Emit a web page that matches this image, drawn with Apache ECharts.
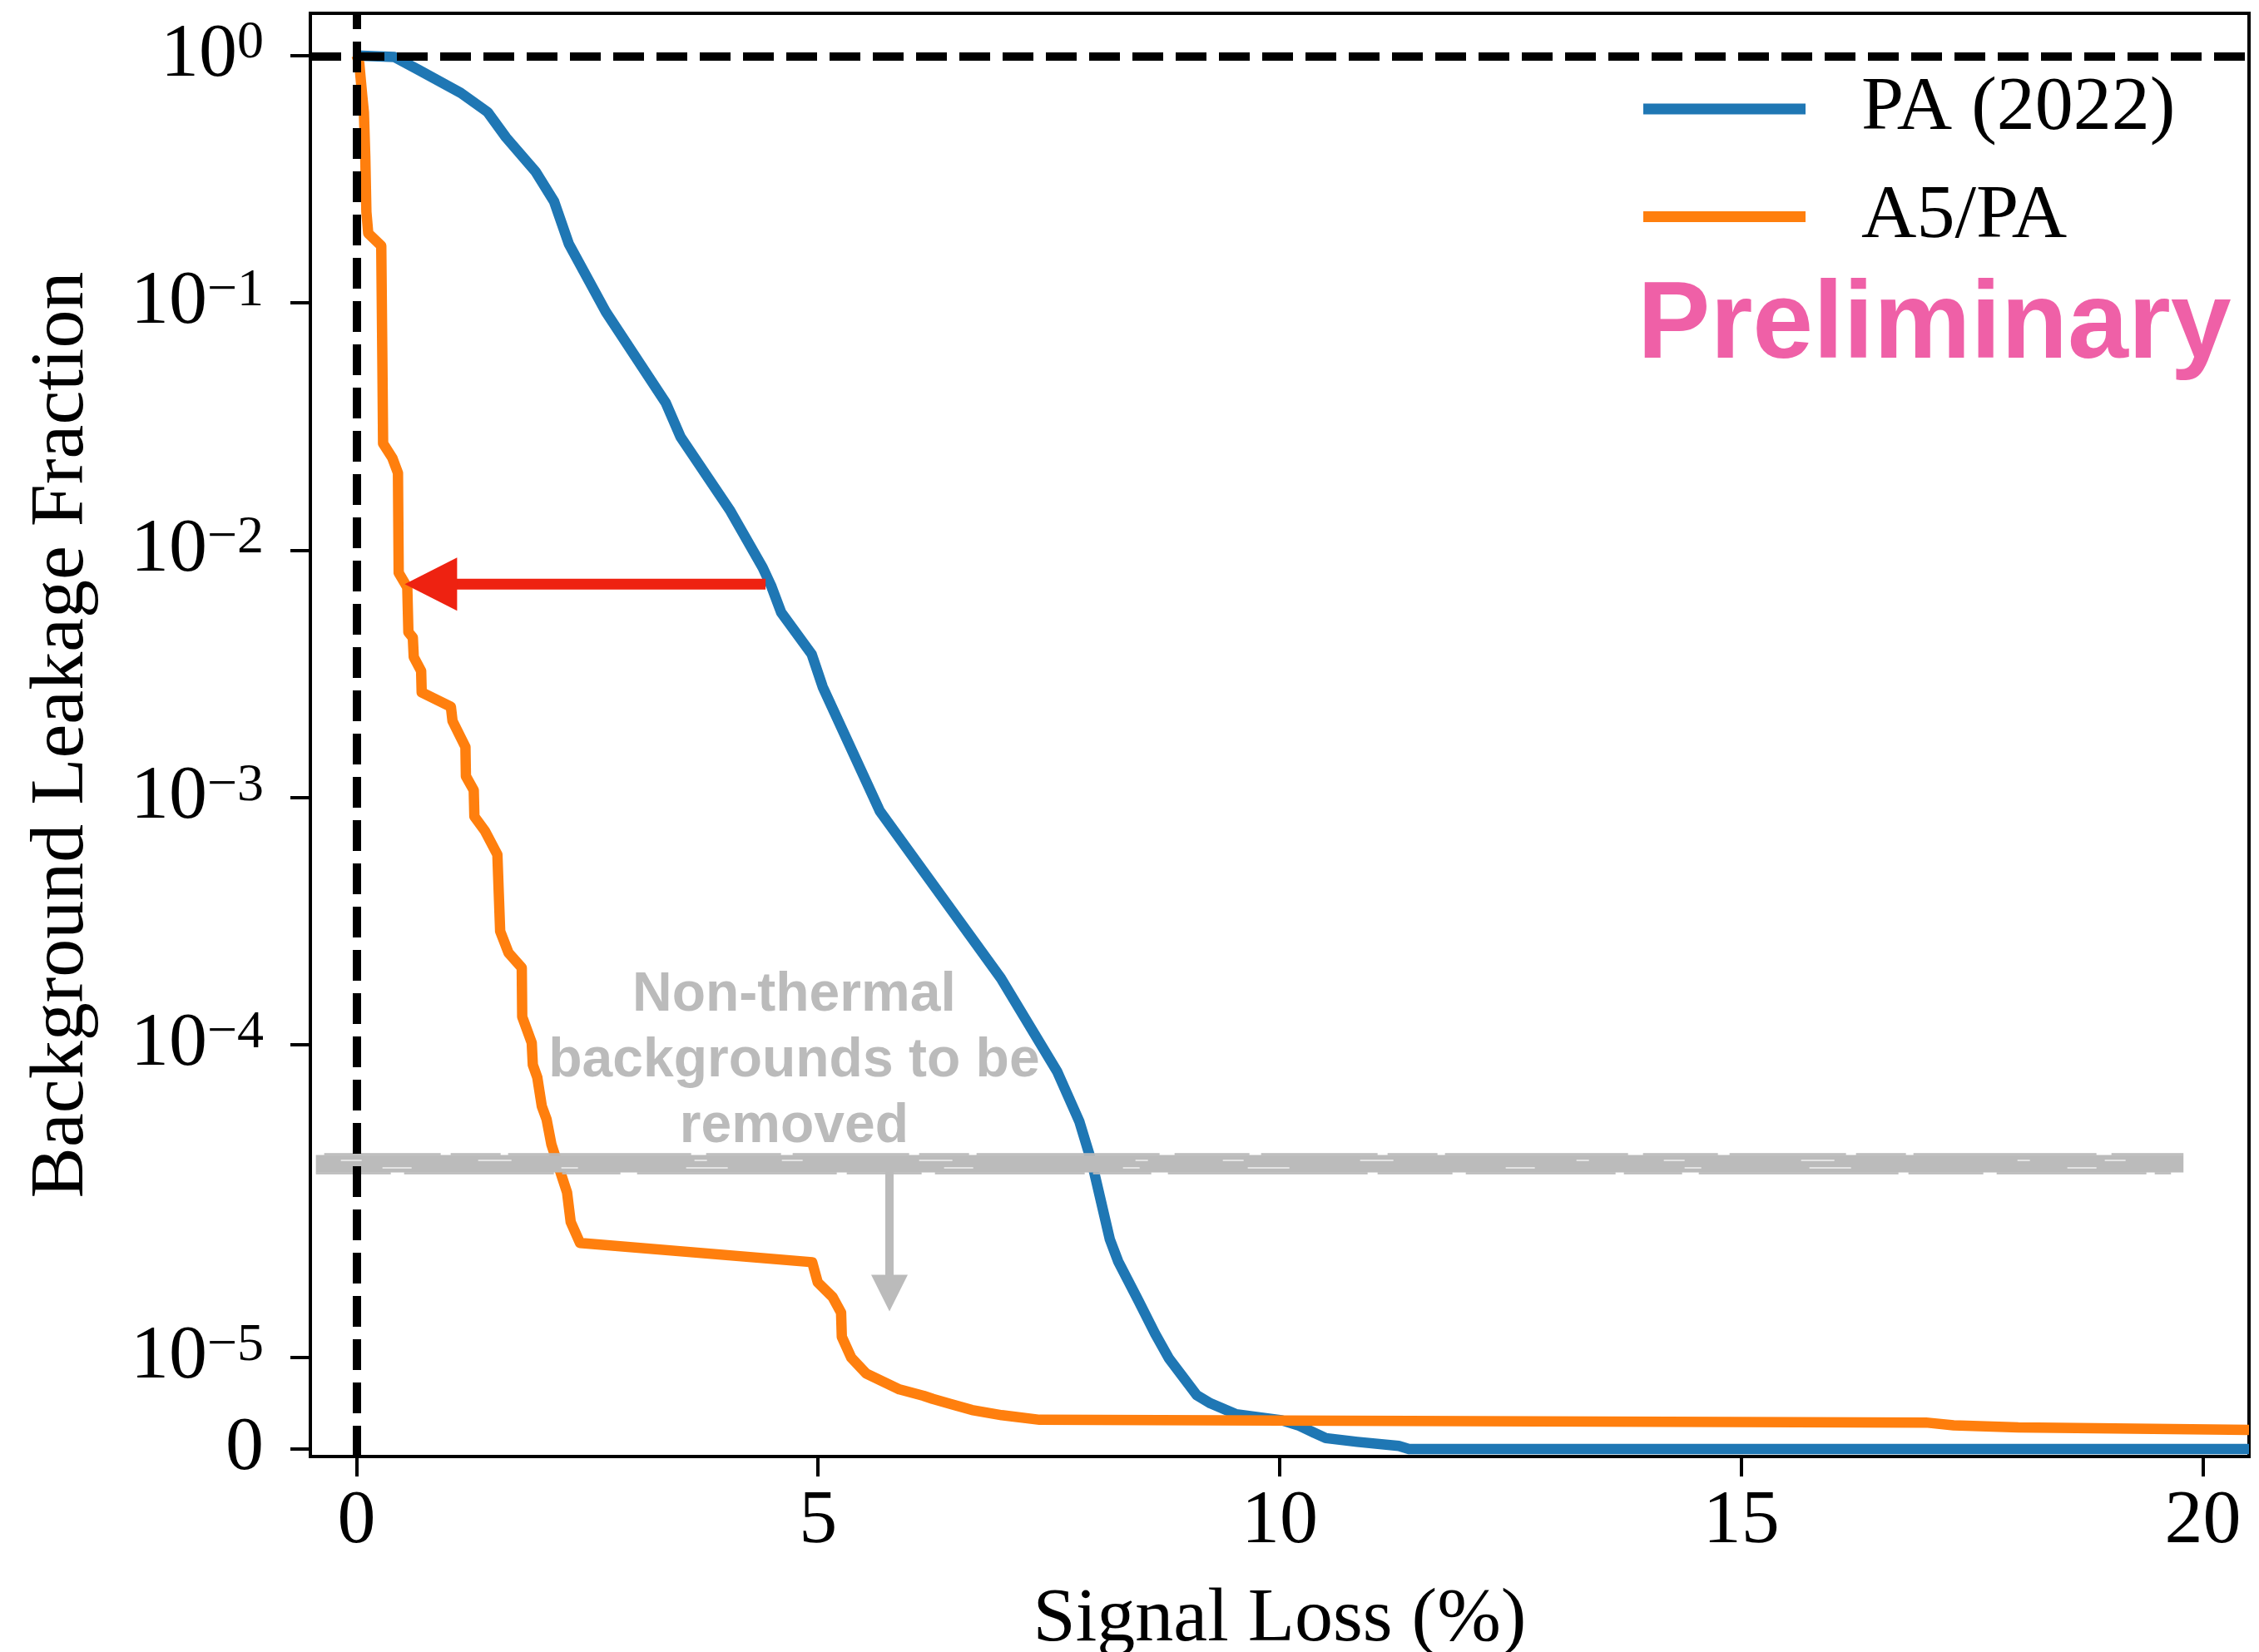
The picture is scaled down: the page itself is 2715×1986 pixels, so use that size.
<!DOCTYPE html>
<html>
<head>
<meta charset="utf-8">
<script src="https://cdn.jsdelivr.net/npm/echarts@6/dist/echarts.min.js"></script>
<style>
html,body{margin:0;padding:0;background:#fff;}
#chart{width:2715px;height:1986px;}
</style>
</head>
<body>
<div id="chart"></div>
<script>
// ---------------- data ----------------
const seriesNames = ['PA (2022)', 'A5/PA'];

const blueX = [0, 0.41, 0.67, 1.13, 1.42, 1.62, 1.94, 2.14, 2.30, 2.70, 3.35, 3.51, 4.05, 4.40, 4.49, 4.60, 4.93, 5.05, 5.67, 6.98, 7.59, 7.83, 7.97, 8.16, 8.25, 8.47, 8.65, 8.80, 9.10, 9.25, 9.53, 10.02, 10.20, 10.37, 10.50, 10.84, 11.29, 11.40, 20.5];
const blueY = [1.0, 0.985, 0.875, 0.705, 0.59, 0.466, 0.339, 0.257, 0.173, 0.092, 0.0394, 0.0287, 0.0144, 0.0085, 0.0072, 0.0056, 0.0038, 0.0028, 0.00088, 0.000186, 7.8e-5, 4.9e-5, 3.3e-5, 2.29e-5, 2.05e-5, 1.62e-5, 1.26e-5, 9.9e-6, 5.9e-6, 5.0e-6, 3.8e-6, 3.15e-6, 2.6e-6, 1.8e-6, 1.2e-6, 7.9e-7, 3.4e-7, 0, 0];

const orangeX = [0, 0.03, 0.06, 0.08, 0.095, 0.107, 0.127, 0.268, 0.28, 0.288, 0.388, 0.449, 0.457, 0.55, 0.562, 0.61, 0.62, 0.70, 0.706, 1.022, 1.04, 1.18, 1.185, 1.27, 1.277, 1.391, 1.526, 1.541, 1.556, 1.646, 1.79, 1.795, 1.898, 1.91, 1.958, 2.007, 2.059, 2.111, 2.20, 2.281, 2.32, 2.421, 4.936, 4.996, 5.157, 5.249, 5.257, 5.358, 5.519, 5.881, 6.142, 6.243, 6.424, 6.666, 6.99, 7.4, 10.0, 17.0, 17.3, 18.0, 20.5];
const orangeY = [1.0, 0.93, 0.7, 0.59, 0.39, 0.233, 0.191, 0.17, 0.0585, 0.027, 0.0236, 0.0205, 0.0081, 0.00707, 0.00466, 0.00443, 0.0037, 0.00325, 0.00266, 0.00233, 0.00204, 0.0016, 0.00122, 0.00107, 0.000838, 0.000733, 0.000588, 0.000411, 0.000288, 0.000236, 0.000205, 0.00013, 0.000102, 8.3e-5, 7.4e-5, 5.65e-5, 5.0e-5, 3.96e-5, 3.13e-5, 2.8e-5, 2.48e-5, 2.25e-5, 2.04e-5, 1.82e-5, 1.66e-5, 1.49e-5, 1.225e-5, 1.0e-5, 8.26e-6, 6.52e-6, 5.82e-6, 5.48e-6, 4.96e-6, 4.27e-6, 3.7e-6, 3.2e-6, 3.12e-6, 2.9e-6, 2.6e-6, 2.36e-6, 2.1e-6];

const xTicks = [0, 5, 10, 15, 20];
const xLimits = [-0.5, 20.5];
const yTickValues = [0, 1e-5, 1e-4, 1e-3, 1e-2, 1e-1, 1];
const yTickExponents = [null, '\u22125', '\u22124', '\u22123', '\u22122', '\u22121', '0'];
const yLimits = [-8.1e-7, 1.48];

const refLineX = 0;      // vertical dashed line
const refLineY = 1;      // horizontal dashed line

const annotationText = 'Non-thermal\nbackgrounds to be\nremoved';
const annotationPos = [4.74, 8.6e-5];
const bandX = [-0.44, 19.79];
const bandY = 3.31e-5;
const grayArrowX = 5.773;
const grayArrowY = [3.31e-5, 1.503e-5];
const redArrowX = [4.431, 0.522];   // tail -> tip
const redArrowY = 0.00729;

const xLabel = 'Signal Loss (%)';
const yLabel = 'Background Leakage Fraction';
const stampText = 'Preliminary';

// ---------------- symlog transform (linthresh 3e-5, linscale 1) ----------------
const LT = 3e-5, LS = 1 / (1 - 0.1);
function sy(v) {
  const a = Math.abs(v);
  if (a <= LT) return v / LT * LS;
  return Math.sign(v) * (LS + Math.log10(a / LT));
}

const SERIF = 'Liberation Serif';
const SANS = 'Liberation Sans';

const blueData = blueX.map((x, i) => [x, sy(blueY[i])]);
const orangeData = orangeX.map((x, i) => [x, sy(orangeY[i])]);
const yTickPos = yTickValues.map(sy);

function yLabelFmt(v) {
  let idx = 0, best = Infinity;
  yTickPos.forEach((p, i) => { const d = Math.abs(p - v); if (d < best) { best = d; idx = i; } });
  const e = yTickExponents[idx];
  if (e === null) return '{b|0}';
  return '{b|10}{s|' + e + '}';
}

function renderGray(params, api) {
  const children = [];
  const b0 = api.coord([bandX[0], sy(bandY)]);
  const b1 = api.coord([bandX[1], sy(bandY)]);
  const col = '#bbbbbb';
  children.push({type: 'line', shape: {x1: b0[0], y1: b0[1], x2: b1[0], y2: b1[1]}, style: {stroke: col, lineWidth: 21}});
  // ragged brush edges
  children.push({type: 'line', shape: {x1: b0[0] + 10, y1: b0[1] - 11.5, x2: b1[0], y2: b1[1] - 11.5}, style: {stroke: col, lineWidth: 2.5, lineDash: [140, 12, 60, 9, 220, 18, 90, 14]}});
  children.push({type: 'line', shape: {x1: b0[0], y1: b0[1] + 11.5, x2: b1[0] - 15, y2: b1[1] + 11.5}, style: {stroke: col, lineWidth: 2.5, lineDash: [90, 16, 180, 10, 70, 20, 240, 12]}});
  // light streaks inside
  children.push({type: 'line', shape: {x1: b0[0] + 30, y1: b0[1] - 4, x2: b1[0] - 40, y2: b1[1] - 4}, style: {stroke: '#ffffff', lineWidth: 2, opacity: 0.6, lineDash: [25, 140, 40, 220, 15, 90]}});
  children.push({type: 'line', shape: {x1: b0[0] + 80, y1: b0[1] + 5, x2: b1[0] - 60, y2: b1[1] + 5}, style: {stroke: '#ffffff', lineWidth: 2, opacity: 0.6, lineDash: [35, 180, 20, 130, 50, 260]}});
  // gray arrow
  const a0 = api.coord([grayArrowX, sy(grayArrowY[0])]);
  const a1 = api.coord([grayArrowX, sy(grayArrowY[1])]);
  const hl = 44, hw = 22;
  children.push({type: 'line', shape: {x1: a0[0], y1: a0[1], x2: a1[0], y2: a1[1] - hl + 2}, style: {stroke: col, lineWidth: 10}});
  children.push({type: 'polygon', shape: {points: [[a1[0] - hw, a1[1] - hl], [a1[0] + hw, a1[1] - hl], [a1[0], a1[1]]]}, style: {fill: col}});
  // text
  const t = api.coord([annotationPos[0], sy(annotationPos[1])]);
  children.push({type: 'text', x: t[0], y: t[1], style: {text: annotationText, fontFamily: SANS, fontWeight: 'bold', fontSize: 66, lineHeight: 79, fill: col, align: 'center', verticalAlign: 'middle'}});
  return {type: 'group', children};
}

function renderRed(params, api) {
  const tail = api.coord([redArrowX[0], sy(redArrowY)]);
  const tip = api.coord([redArrowX[1], sy(redArrowY)]);
  const hl = 63, hw = 32;
  const col = '#ee2211';
  return {type: 'group', children: [
    {type: 'line', shape: {x1: tail[0], y1: tail[1], x2: tip[0] + hl - 2, y2: tip[1]}, style: {stroke: col, lineWidth: 13}},
    {type: 'polygon', shape: {points: [[tip[0], tip[1]], [tip[0] + hl, tip[1] - hw], [tip[0] + hl, tip[1] + hw]]}, style: {fill: col}}
  ]};
}

const chart = echarts.init(document.getElementById('chart'), null, {renderer: 'canvas'});
chart.setOption({
  animation: false,
  backgroundColor: '#ffffff',
  grid: {left: 373, right: 12, top: 16, bottom: 235, show: true, borderColor: '#000', borderWidth: 4, backgroundColor: 'transparent', containLabel: false, outerBoundsMode: 'none'},
  legend: {
    data: seriesNames, orient: 'vertical', left: 1975, top: 80, padding: 0,
    icon: 'rect', itemWidth: 195, itemHeight: 13, itemGap: 27.4,
    selectedMode: false,
    textStyle: {fontFamily: SERIF, fontSize: 92, lineHeight: 92, color: '#000', padding: [10, 0, 0, 62]}
  },
  xAxis: {
    type: 'value', min: xLimits[0], max: xLimits[1],
    name: xLabel, nameLocation: 'middle', nameGap: 151, nameMoveOverlap: false,
    nameTextStyle: {fontFamily: SERIF, fontSize: 92, color: '#000'},
    axisLine: {show: true, onZero: false, lineStyle: {color: '#000', width: 4}},
    axisTick: {show: true, inside: false, length: 24, customValues: xTicks, lineStyle: {color: '#000', width: 4}},
    axisLabel: {show: true, margin: 33, customValues: xTicks, formatter: v => String(v), fontFamily: SERIF, fontSize: 92, color: '#000'},
    splitLine: {show: false}
  },
  yAxis: {
    type: 'value', min: sy(yLimits[0]), max: sy(yLimits[1]),
    name: yLabel, nameLocation: 'middle', nameGap: 252, nameMoveOverlap: false,
    nameTextStyle: {fontFamily: SERIF, fontSize: 92, color: '#000'},
    axisLine: {show: true, onZero: false, lineStyle: {color: '#000', width: 4}},
    axisTick: {show: true, inside: false, length: 24, customValues: yTickPos, lineStyle: {color: '#000', width: 4}},
    axisLabel: {
      show: true, margin: 56, customValues: yTickPos, formatter: yLabelFmt,
      rich: {
        b: {fontFamily: SERIF, fontSize: 92, lineHeight: 92, color: '#000'},
        s: {fontFamily: SERIF, fontSize: 64, lineHeight: 46, verticalAlign: 'top', color: '#000'}
      }
    },
    splitLine: {show: false}
  },
  graphic: [{
    type: 'text', x: 1968, y: 394, z: 50,
    style: {text: stampText, fontFamily: SANS, fontWeight: 'bold', fontSize: 131, fill: '#ef60a7', align: 'left', verticalAlign: 'middle'}
  }],
  series: [
    {
      name: seriesNames[0], type: 'line', data: blueData, showSymbol: false, symbol: 'none', z: 2,
      color: '#1f77b4', lineStyle: {color: '#1f77b4', width: 12.5, join: 'round', cap: 'butt'},
      emphasis: {disabled: true}, silent: true,
      markLine: {
        silent: true, symbol: ['none', 'none'], z: 5, animation: false,
        label: {show: false},
        lineStyle: {color: '#000', width: 10, type: [37, 15]},
        emphasis: {disabled: true},
        data: [{xAxis: refLineX}, {yAxis: sy(refLineY)}]
      }
    },
    {
      name: seriesNames[1], type: 'line', data: orangeData, showSymbol: false, symbol: 'none', z: 2,
      color: '#ff7f0e', lineStyle: {color: '#ff7f0e', width: 12.5, join: 'round', cap: 'butt'},
      emphasis: {disabled: true}, silent: true
    },
    {
      name: 'annotation', type: 'custom', coordinateSystem: 'cartesian2d', z: 4, silent: true,
      data: [[0, 0]], renderItem: renderGray
    },
    {
      name: 'arrow', type: 'custom', coordinateSystem: 'cartesian2d', z: 6, silent: true,
      data: [[0, 0]], renderItem: renderRed
    }
  ]
});
</script>
</body>
</html>
